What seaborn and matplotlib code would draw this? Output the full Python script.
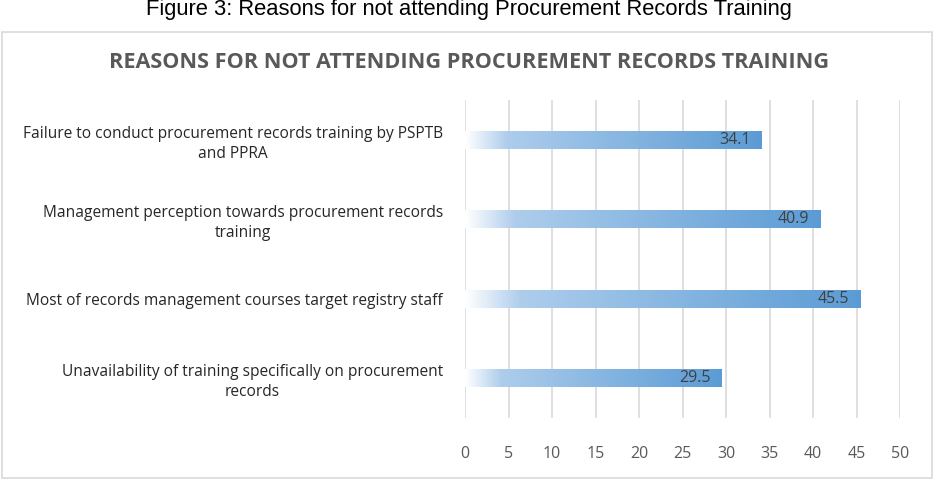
import matplotlib as mpl
mpl.use('Agg')
import matplotlib.pyplot as plt
import matplotlib.colors as colors
from matplotlib.patches import Rectangle
import seaborn as sns
import numpy as np
import pandas as pd

categories = [
    'Failure to conduct procurement records training by PSPTB\nand PPRA',
    'Management perception towards procurement records\ntraining',
    'Most of records management courses target registry staff',
    'Unavailability of training specifically on procurement\nrecords',
]
values = [34.1, 40.9, 45.5, 29.5]
x_ticks = [0, 5, 10, 15, 20, 25, 30, 35, 40, 45, 50]

sns.set_theme(style='white')
plt.rcParams['font.family'] = ['Open Sans', 'DejaVu Sans']

fig = plt.figure(figsize=(9.38, 4.84), dpi=100)
ax = fig.add_axes([465 / 938, 1 - 418 / 484, (900 - 465) / 938, (418 - 100) / 484])

df = pd.DataFrame({'reason': categories, 'pct': values})
sns.barplot(data=df, x='pct', y='reason', orient='h', width=0.23, ax=ax,
            color='#5b9bd5', zorder=3)

# gradient fill, white on the left fading into blue
grad = colors.LinearSegmentedColormap.from_list(
    'bar', [(0, '#ffffff'), (0.14, '#aecdec'), (0.5, '#8ab8e2'), (1, '#5b9bd5')])
g = np.linspace(0, 1, 256).reshape(1, -1)
for p in ax.patches:
    x0, y0 = p.get_x(), p.get_y()
    w, h = p.get_width(), p.get_height()
    im = ax.imshow(g, cmap=grad, aspect='auto', extent=[x0, x0 + w, y0 + h, y0],
                   zorder=3, interpolation='bilinear')
    im.set_clip_path(p)
    p.set_facecolor('none')
    p.set_edgecolor('none')
    ax.text(x0 + w - 1.3, y0 + h / 2, f'{w:.1f}', ha='right', va='center',
            fontsize=11.5, color='#404040', zorder=4)

ax.set_xlim(0, 50)
ax.set_ylim(3.5, -0.5)
ax.set_xticks(x_ticks)
ax.set_xticklabels([str(t) for t in x_ticks], color='#595959', fontsize=11.5)
ax.tick_params(axis='x', length=0, pad=20)
ax.tick_params(axis='y', length=0, pad=16)
for lab in ax.get_yticklabels():
    lab.set_multialignment('center')
    lab.set_linespacing(1.35)
    lab.set_fontsize(11.2)
    lab.set_color('#262626')
ax.grid(axis='x', color='#d9d9d9', linewidth=1.2, zorder=0)
ax.set_axisbelow(True)
for s in ax.spines.values():
    s.set_visible(False)
ax.set_xlabel('')
ax.set_ylabel('')

# chart frame and titles
fig.patches.append(Rectangle((2 / 938, 1 - 478 / 484), 930 / 938, 446 / 484,
                             transform=fig.transFigure, fill=False,
                             edgecolor='#d9d9d9', linewidth=1.2))
fig.text(0.5, 1 - 62 / 484, 'REASONS FOR NOT ATTENDING PROCUREMENT RECORDS TRAINING',
         ha='center', va='center', fontsize=15.6, fontweight='bold', color='#595959')
fig.text(0.5, 1 - 10 / 484, 'Figure 3: Reasons for not attending Procurement Records Training',
         ha='center', va='center', fontsize=15.8, color='#000000',
         family=['Liberation Sans', 'DejaVu Sans'])

plt.savefig('out.png', dpi=100)
plt.close()
